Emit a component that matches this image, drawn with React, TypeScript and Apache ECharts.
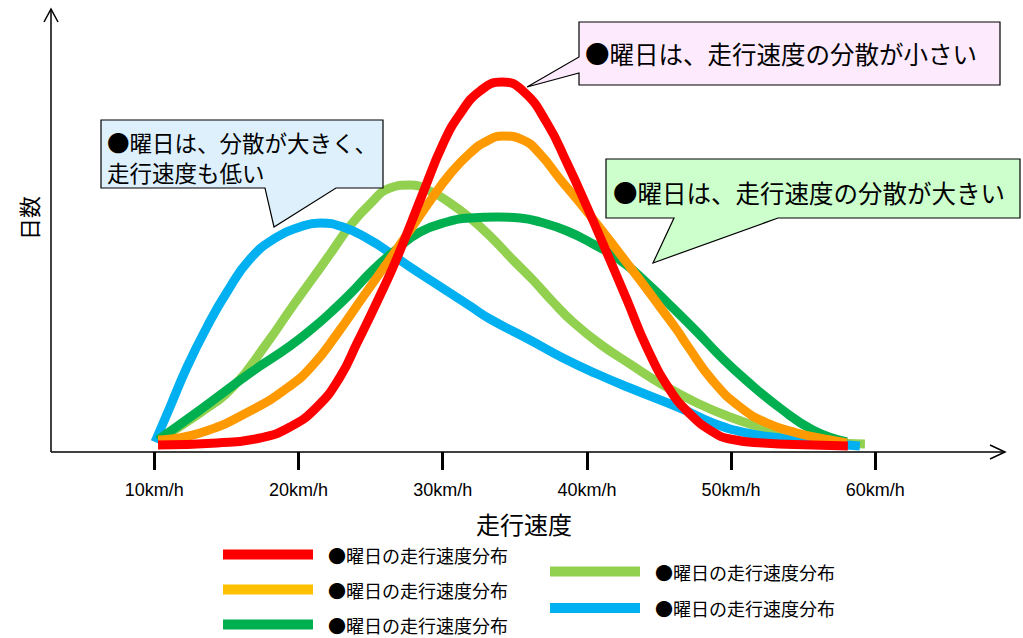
import { useEffect, useRef } from 'react';
import * as echarts from 'echarts';

const speedTicks = [10, 20, 30, 40, 50, 60];
const seriesIds = ['s1', 's2', 's3', 's4', 's5'];
const legendLabel = '●曜日の走行速度分布';
const xAxisTitle = '走行速度';
const yAxisTitle = '日数';
const lineColors = ['#FF0000', '#FF9900', '#00B050', '#92D050', '#00B0F0'];
const legendColors = ['#FF0000', '#FFC000', '#00B050', '#92D050', '#00B0F0'];

const redData = [
  [10.26, 1.75], [14.35, 2.25], [17.33, 3.5], [19.41, 6.25], [21.28, 11.25], [22.88, 18.75],
  [24.06, 27.25], [25.44, 37.5], [26.83, 48.5], [28.63, 64.75], [30.02, 77], [31.2, 84.5],
  [32.59, 90.25], [34.11, 92.5], [35.57, 90.25], [37.23, 82.25], [38.62, 72.25], [40.01, 61.25],
  [41.39, 49.75], [42.78, 38], [44.17, 26], [45.76, 15.5], [47.15, 9.5], [48.74, 5],
  [49.92, 3.25], [52.21, 2.25], [55.67, 1.75], [58.1, 1.5],
];
const orangeData = [
  [10.26, 3], [13.17, 4.75], [16.64, 10.25], [19.41, 16.5], [21.0, 21.75], [22.67, 29.5],
  [24.47, 38.75], [26.14, 47.25], [27.74, 55.5], [29.12, 62.75], [30.51, 69.5], [31.9, 74.75],
  [33.07, 77.75], [34.18, 79], [35.57, 78], [36.75, 74.5], [38.13, 68.25], [39.52, 62.25],
  [40.91, 56], [42.3, 49.5], [43.68, 43], [45.07, 36.25], [46.25, 30.5], [46.94, 26.75],
  [48.74, 17.75], [50.62, 11.25], [52.49, 7.25], [54.56, 4.75], [56.85, 3], [58.03, 2.25],
];
const greenData = [
  [10.26, 3], [13.17, 10.5], [16.64, 19.75], [19.41, 26.5], [21.0, 31], [22.19, 34.75],
  [23.57, 39.5], [25.16, 45.5], [26.83, 50.75], [28.43, 55], [30.3, 57.5], [31.9, 58.5],
  [33.77, 58.75], [35.36, 58.5], [36.75, 57.5], [38.62, 55.25], [40.43, 52], [42.3, 48],
  [44.17, 42.25], [45.97, 36], [47.64, 30], [49.23, 24], [51.1, 17.75], [53.39, 11],
  [55.67, 5.5], [58.03, 2.5],
];
const lightGreenData = [
  [10.26, 3], [13.17, 9.75], [15.46, 16.25], [17.82, 27.25], [19.41, 35.5], [20.8, 42.5],
  [22.19, 49.5], [23.57, 56.5], [24.96, 62], [26.35, 66], [27.74, 66.75], [29.12, 65.25],
  [30.51, 62.25], [31.9, 58.5], [33.28, 54], [34.88, 48], [36.26, 43], [37.65, 37.5],
  [39.03, 32.5], [40.91, 27], [42.99, 22], [45.28, 16.75], [47.64, 12.25], [49.92, 8.75],
  [52.21, 6], [54.56, 3.75], [56.85, 2.5], [59.28, 2],
];
const blueData = [
  [10.05, 2.5], [11.09, 11.25], [12.27, 21.25], [13.65, 31.25], [15.04, 40], [16.64, 48.25],
  [18.51, 53.75], [20.1, 56.25], [21.49, 57.25], [23.09, 56.25], [24.96, 53], [26.35, 49.75],
  [27.74, 46.25], [29.12, 43], [30.51, 39.75], [31.9, 36.5], [33.28, 33.25], [36.05, 28],
  [38.34, 23.5], [40.7, 19.5], [42.99, 16], [46.46, 11], [48.74, 7.25], [51.1, 4.75],
  [53.39, 3.5], [55.67, 2.5], [58.93, 1.5],
];
const allData = [redData, orangeData, greenData, lightGreenData, blueData];
const seriesZ = [6, 5, 4, 2, 3];

const calloutSmallVar = '●曜日は、走行速度の分散が小さい';
const calloutLargeVar = '●曜日は、走行速度の分散が大きい';
const calloutLowLine1 = '●曜日は、分散が大きく、';
const calloutLowLine2 = '走行速度も低い';

const JP = '"Noto Sans CJK JP", "Noto Sans", sans-serif';
const LAT = '"Liberation Sans", Arial, sans-serif';

function txt(text: string, x: number, y: number, size: number, extra: any = {}) {
  const { center, ...rest } = extra;
  return {
    type: 'text',
    z: 20,
    x,
    y,
    ...rest,
    style: {
      text,
      fill: '#000',
      font: `${size}px ${JP}`,
      lineHeight: size,
      textAlign: center ? 'center' : 'left',
      textVerticalAlign: 'middle',
      align: center ? 'center' : 'left',
      verticalAlign: 'middle',
    },
  };
}

export default function App() {
  const ref = useRef<HTMLDivElement>(null);
  useEffect(() => {
    if (!ref.current) return;
    const chart = echarts.init(ref.current, undefined, { renderer: 'svg' });
    const legendCommon = {
      orient: 'vertical',
      icon: 'rect',
      itemWidth: 90,
      itemHeight: 10,
      padding: 0,
      height: 140,
      selectedMode: false,
      formatter: () => legendLabel,
      textStyle: { fontSize: 18, lineHeight: 19, color: '#000', fontFamily: JP, padding: [0, 0, 0, 10] },
    };
    const option: any = {
      animation: false,
      grid: { left: 154.3, top: 52, width: 721, height: 400 },
      xAxis: {
        type: 'value',
        min: speedTicks[0],
        max: speedTicks[speedTicks.length - 1],
        interval: 10,
        axisLine: { show: false },
        splitLine: { show: false },
        axisTick: { show: true, length: 18, lineStyle: { color: '#000', width: 3 } },
        axisLabel: {
          formatter: (v: number) => `${v}km/h`,
          fontSize: 18,
          color: '#000',
          fontFamily: LAT,
          margin: 29,
        },
      },
      yAxis: { type: 'value', min: 0, max: 100, show: false },
      legend: [
        { ...legendCommon, left: 223, top: 545, itemGap: 16, data: seriesIds.slice(0, 3).map((n, i) => ({ name: n, itemStyle: { color: legendColors[i] } })) },
        { ...legendCommon, left: 550, top: 562, itemGap: 17.5, data: seriesIds.slice(3).map((n, i) => ({ name: n, itemStyle: { color: legendColors[i + 3] } })) },
      ],
      series: seriesIds.map((id, i) => ({
        name: id,
        type: 'line',
        data: allData[i],
        smooth: true,
        symbol: 'none',
        z: seriesZ[i],
        color: lineColors[i],
        lineStyle: { color: lineColors[i], width: 9, cap: 'butt' },
      })),
      graphic: [
        { type: 'line', z: 1, shape: { x1: 51, y1: 452, x2: 1005, y2: 452 }, style: { stroke: '#000', lineWidth: 1.5 } },
        { type: 'polyline', z: 1, shape: { points: [[990, 445], [1005, 452], [990, 459]] }, style: { stroke: '#000', lineWidth: 1.5, fill: null } },
        { type: 'line', z: 1, shape: { x1: 51, y1: 452, x2: 51, y2: 9 }, style: { stroke: '#000', lineWidth: 1.5 } },
        { type: 'polyline', z: 1, shape: { points: [[44, 22], [51, 9], [58, 22]] }, style: { stroke: '#000', lineWidth: 1.5, fill: null } },
        {
          type: 'polygon', z: 10,
          shape: { points: [[101, 120], [383, 120], [383, 188], [336, 188], [274, 227], [265, 188], [101, 188]] },
          style: { fill: '#DDF0FC', stroke: '#000', lineWidth: 1.2 },
        },
        {
          type: 'polygon', z: 10,
          shape: { points: [[579, 22], [1000, 22], [1000, 85], [579, 85], [579, 73], [527, 87], [579, 57]] },
          style: { fill: '#FDEBFD', stroke: '#000', lineWidth: 1.2 },
        },
        {
          type: 'polygon', z: 10,
          shape: { points: [[606, 159], [1020, 159], [1020, 218], [778, 218], [653, 263], [674, 218], [606, 218]] },
          style: { fill: '#CCFFCC', stroke: '#000', lineWidth: 1.2 },
        },
        txt(calloutLowLine1, 107, 142, 22.5),
        txt(calloutLowLine2, 107, 172, 22.5),
        txt(calloutSmallVar, 585, 53, 24.5),
        txt(calloutLargeVar, 613, 192, 24.5),
        txt(xAxisTitle, 524, 523, 24, { center: true }),
        txt(yAxisTitle, 28, 218, 22, { center: true, rotation: Math.PI / 2 }),
      ],
    };
    chart.setOption(option);
    return () => chart.dispose();
  }, []);
  return <div ref={ref} style={{ position: 'absolute', left: 0, top: 0, width: 1023, height: 638 }} />;
}
